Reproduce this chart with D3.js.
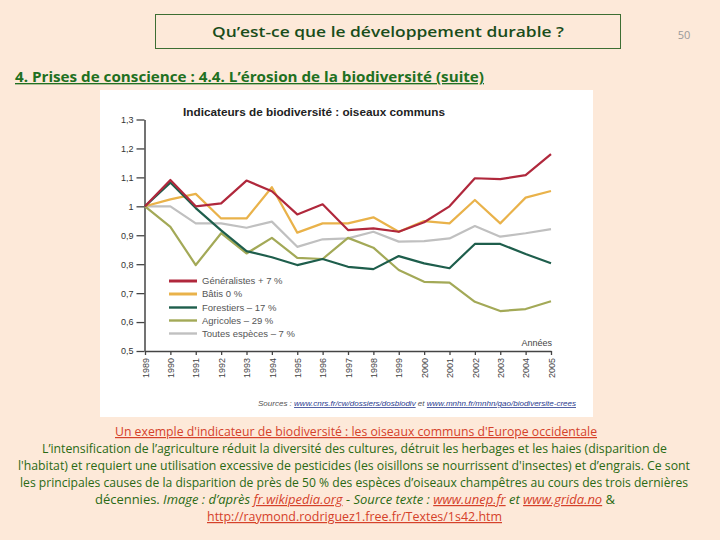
<!DOCTYPE html>
<html><head><meta charset="utf-8">
<script src="https://cdn.jsdelivr.net/npm/d3@7"></script>
<style>body{margin:0;background:#fde9d9;}svg{display:block;}</style>
</head><body>
<script>
const years = [1989,1990,1991,1992,1993,1994,1995,1996,1997,1998,1999,2000,2001,2002,2003,2004,2005];
const generalistes = [1.0,1.091,1.0,1.01,1.089,1.052,0.972,1.007,0.918,0.924,0.912,0.945,1.0,1.097,1.094,1.108,1.18];
const batis = [1.0,1.024,1.043,0.958,0.958,1.066,0.909,0.941,0.941,0.962,0.912,0.949,0.941,1.022,0.941,1.03,1.053];
const forestiers = [1.0,1.082,0.994,0.917,0.845,0.824,0.797,0.818,0.791,0.783,0.828,0.803,0.786,0.87,0.87,0.835,0.803];
const agricoles = [1.0,0.929,0.797,0.907,0.837,0.891,0.822,0.818,0.891,0.857,0.78,0.739,0.736,0.67,0.638,0.645,0.672];
const toutes = [1.0,1.0,0.941,0.941,0.926,0.947,0.86,0.886,0.889,0.912,0.878,0.88,0.889,0.932,0.895,0.907,0.921];
const seriesNames = ["Généralistes + 7 %","Bâtis 0 %","Forestiers – 17 %","Agricoles – 29 %","Toutes espèces – 7 %"];
const yTickValues = [0.5,0.6,0.7,0.8,0.9,1.0,1.1,1.2,1.3];
const yTickLabels = ["0,5","0,6","0,7","0,8","0,9","1","1,1","1,2","1,3"];

const colors = ["#b0283c","#e9b24a","#1e5e4c","#a3a957","#c0c0c0"];
const series = [generalistes,batis,forestiers,agricoles,toutes];

const W=720,H=540;
const svg = d3.select("body").append("svg").attr("width",W).attr("height",H);
svg.append("rect").attr("width",W).attr("height",H).attr("fill","#fde9d9");

// header
svg.append("rect").attr("x",155.5).attr("y",14.5).attr("width",465).attr("height",34)
  .attr("fill","none").attr("stroke","#3d6e33").attr("stroke-width",1);
svg.append("text").attr("x",388).attr("y",37).attr("text-anchor","middle")
  .attr("font-family","Open Sans, sans-serif").attr("font-size",15).attr("font-weight",600).attr("fill","#1a4d1a")
  .attr("textLength",352).attr("lengthAdjust","spacingAndGlyphs")
  .text("Qu’est-ce que le développement durable ?");
svg.append("text").attr("x",684).attr("y",39).attr("text-anchor","middle")
  .attr("font-family","Open Sans, sans-serif").attr("font-size",11).attr("fill","#999")
  .text("50");
svg.append("text").attr("x",15).attr("y",82)
  .attr("font-family","Open Sans, sans-serif").attr("font-size",13.5).attr("font-weight","bold")
  .attr("fill","#217021").attr("text-decoration","underline")
  .attr("textLength",469).attr("lengthAdjust","spacingAndGlyphs")
  .text("4. Prises de conscience : 4.4. L’érosion de la biodiversité (suite)");

// chart image area
svg.append("rect").attr("x",100).attr("y",90).attr("width",493).attr("height",327).attr("fill","#ffffff");

const x = d3.scaleLinear().domain([1989,2005]).range([145,551]);
const y = d3.scaleLinear().domain([0.5,1.3]).range([351,119.5]);

svg.append("text").attr("x",183).attr("y",116)
  .attr("font-family","Liberation Sans, Arial, sans-serif").attr("font-size",11.5).attr("font-weight","bold")
  .attr("fill","#222").attr("textLength",262).attr("lengthAdjust","spacingAndGlyphs")
  .text("Indicateurs de biodiversité : oiseaux communs");

const yAxis = svg.append("g").attr("transform","translate(144.5,0)")
  .call(d3.axisLeft(y).tickValues(yTickValues).tickFormat((d,i)=>yTickLabels[i]).tickSize(8).tickSizeOuter(0));
yAxis.select(".domain").attr("stroke","#444").attr("stroke-width",1.5);
yAxis.selectAll(".tick line").attr("stroke","#444").attr("stroke-width",1.3);
yAxis.selectAll("text").attr("font-family","Liberation Sans, Arial, sans-serif").attr("font-size",9).attr("fill","#333").attr("x",-11);

const xAxis = svg.append("g").attr("transform","translate(0,351)")
  .call(d3.axisBottom(x).tickValues(years).tickFormat(d3.format("d")).tickSize(4).tickSizeOuter(0));
xAxis.select(".domain").attr("stroke","#444").attr("stroke-width",1.5);
xAxis.selectAll(".tick line").attr("stroke","#444").attr("stroke-width",1.3);
xAxis.selectAll("text").attr("font-family","Liberation Sans, Arial, sans-serif").attr("font-size",9).attr("fill","#444")
  .attr("transform","rotate(-90)").attr("text-anchor","end").attr("x",-7).attr("y",0).attr("dy","0.35em");

svg.append("text").attr("x",552).attr("y",346).attr("text-anchor","end")
  .attr("font-family","Liberation Sans, Arial, sans-serif").attr("font-size",9).attr("fill","#444").text("Années");

const line = d3.line().x((d,i)=>x(years[i])).y(d=>y(d));
const order=[4,3,1,2,0];
order.forEach(k=>{
  svg.append("path").datum(series[k]).attr("d",line).attr("fill","none")
    .attr("stroke",colors[k]).attr("stroke-width",2.2).attr("stroke-linejoin","round");
});

// legend
const legY=[281,294,307.5,320.5,333.5];
seriesNames.forEach((n,i)=>{
  svg.append("line").attr("x1",169).attr("x2",197).attr("y1",legY[i]).attr("y2",legY[i])
    .attr("stroke",colors[i]).attr("stroke-width",i<2?3:2.4);
  svg.append("text").attr("x",202).attr("y",legY[i]).attr("dy","0.35em")
    .attr("font-family","Liberation Sans, Arial, sans-serif").attr("font-size",9.5).attr("fill","#555").text(n);
});

// sources
const src = svg.append("text").attr("x",258).attr("y",406)
  .attr("font-family","Liberation Sans, Arial, sans-serif").attr("font-size",8).attr("font-style","italic").attr("fill","#555")
  .attr("textLength",318).attr("lengthAdjust","spacingAndGlyphs");
src.append("tspan").text("Sources : ");
src.append("tspan").attr("fill","#2a3b8f").attr("text-decoration","underline").text("www.cnrs.fr/cw/dossiers/dosbiodiv");
src.append("tspan").text(" et ");
src.append("tspan").attr("fill","#2a3b8f").attr("text-decoration","underline").text("www.mnhn.fr/mnhn/gao/biodiversite-crees");

// caption
const F="Open Sans, sans-serif", green="#2a6a14", red="#d5412a";
svg.append("text").attr("x",356).attr("y",436).attr("text-anchor","middle").attr("font-family",F).attr("font-size",12)
  .attr("fill",red).attr("text-decoration","underline").attr("textLength",482).attr("lengthAdjust","spacingAndGlyphs")
  .text("Un exemple d'indicateur de biodiversité : les oiseaux communs d'Europe occidentale");
const body=[
 ["L’intensification de l’agriculture réduit la diversité des cultures, détruit les herbages et les haies (disparition de",42,625,453],
 ["l'habitat) et requiert une utilisation excessive de pesticides (les oisillons se nourrissent d'insectes) et d’engrais. Ce sont",18,672,470],
 ["les principales causes de la disparition de près de 50 % des espèces d’oiseaux champêtres au cours des trois dernières",20,668,487]
];
body.forEach(b=>{
  svg.append("text").attr("x",b[1]).attr("y",b[3]).attr("font-family",F).attr("font-size",12).attr("fill",green)
    .attr("textLength",b[2]).attr("lengthAdjust","spacingAndGlyphs").text(b[0]);
});
const l5 = svg.append("text").attr("x",95).attr("y",504).attr("font-family",F).attr("font-size",12).attr("fill",green)
  .attr("textLength",520).attr("lengthAdjust","spacingAndGlyphs");
l5.append("tspan").text("décennies. ");
l5.append("tspan").attr("font-style","italic").text("Image : d’après ");
l5.append("tspan").attr("font-style","italic").attr("fill",red).attr("text-decoration","underline").text("fr.wikipedia.org");
l5.append("tspan").attr("font-style","italic").text(" - Source texte : ");
l5.append("tspan").attr("font-style","italic").attr("fill",red).attr("text-decoration","underline").text("www.unep.fr");
l5.append("tspan").attr("font-style","italic").text(" et ");
l5.append("tspan").attr("font-style","italic").attr("fill",red).attr("text-decoration","underline").text("www.grida.no");
l5.append("tspan").text(" &");
svg.append("text").attr("x",207).attr("y",521).attr("font-family",F).attr("font-size",12).attr("fill",red)
  .attr("text-decoration","underline").attr("textLength",295).attr("lengthAdjust","spacingAndGlyphs")
  .text("http://raymond.rodriguez1.free.fr/Textes/1s42.htm");
</script>
</body></html>
